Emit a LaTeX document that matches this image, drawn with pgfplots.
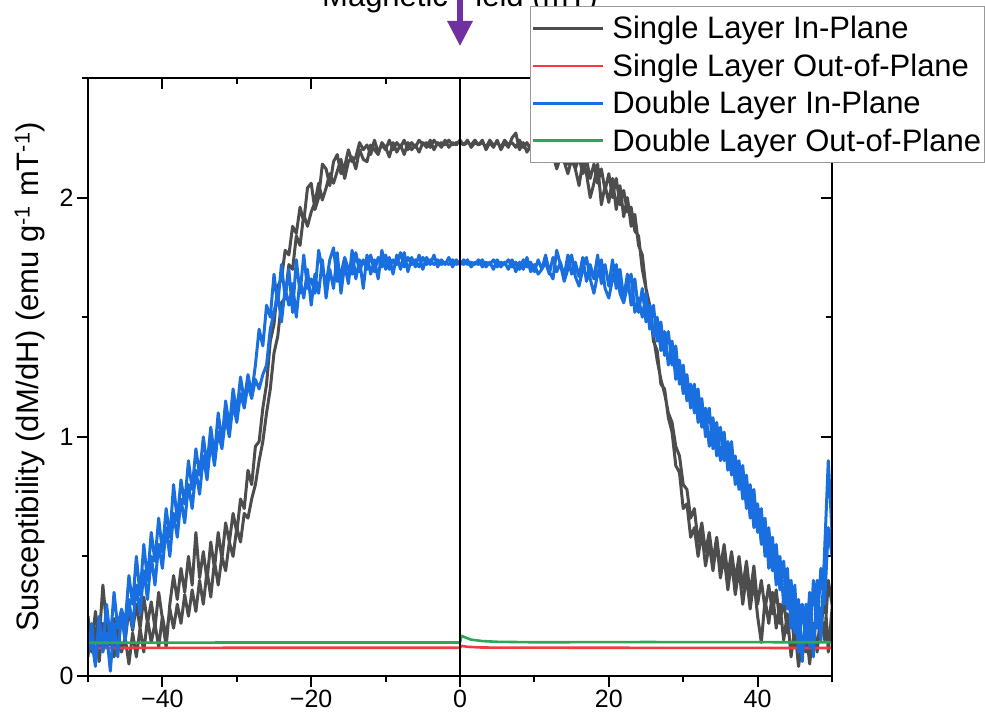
\documentclass[border=0pt]{standalone}
\usepackage{pgfplots}
\pgfplotsset{compat=1.18}
\usepackage{fontspec}
\setmainfont{Liberation Sans}

\definecolor{slgray}{RGB}{77,77,77}
\definecolor{slred}{RGB}{240,60,60}
\definecolor{dlblue}{RGB}{26,111,224}
\definecolor{dlgreen}{RGB}{46,165,90}
\definecolor{arrowpurple}{RGB}{112,48,160}

\begin{document}
\begin{tikzpicture}
\pgfplotsset{
  susc/.style={
    at={(88pt,45pt)}, anchor=south west,
    scale only axis, width=744pt, height=598pt,
    xmin=-50, xmax=50, ymin=0, ymax=2.5,
    axis line style={line width=2pt},
    major tick length=11pt, minor tick length=6pt,
    every tick/.style={black, line width=2pt},
    xtick={-40,-20,0,20,40},
    minor xtick={-50,-30,-10,10,30,50},
    ytick={0,1,2},
    minor ytick={0.5,1.5,2.5},
    tick label style={font=\fontsize{25}{30}\selectfont},
  }
}

% frame: inward ticks on top and right, title and arrow
\begin{axis}[susc,
  xtick pos=right, ytick pos=right, tick align=inside,
  xticklabels={}, yticklabels={}, clip=false]
\node[anchor=base, font=\fontsize{31}{37}\selectfont] at (axis cs:0,2.7975) {Magnetic Field (mT)};
\draw[arrowpurple, line width=5.5pt] (axis cs:0,2.95) -- (axis cs:0,2.70);
\fill[arrowpurple] (axis cs:-1.75,2.739) -- (axis cs:1.75,2.739) -- (axis cs:0,2.635) -- cycle;
\end{axis}

% data
\begin{axis}[susc,
  xtick pos=left, ytick pos=left, tick align=outside,
  axis on top,
  xticklabels={−40,−20,0,20,40}, yticklabels={0,1,2},
  ylabel={Susceptibility (dM/dH) (emu g\textsuperscript{-1} mT\textsuperscript{-1})},
  ylabel style={font=\fontsize{31}{37}\selectfont, at={(axis description cs:-0.078,0.5)}, anchor=center},
  every axis plot/.append style={line join=round},
  legend image code/.code={\draw[#1] (0pt,0pt) -- (70pt,0pt);},
  legend style={at={(0.594,1.1204)}, anchor=north west,
    draw=gray!80, line width=0.8pt, fill=white,
    font=\fontsize{31}{37}\selectfont,
    inner xsep=1pt, inner ysep=8pt,
    nodes={inner sep=2pt}, row sep=9.5pt, column sep=6pt},
  legend cell align=left,
]

\addplot[slgray, line width=3pt] coordinates {
(-50,0.22) (-49.5,0.12) (-49,0.27) (-48.5,0.15) (-48,0.38) (-47.5,0.21) (-47,0.13) (-46.5,0.24) (-46,0.1) (-45.5,0.26)
(-45,0.15) (-44.5,0.28) (-44,0.19) (-43.5,0.3) (-43,0.2) (-42.5,0.33) (-42,0.22) (-41.5,0.31) (-41,0.2) (-40.5,0.35)
(-40,0.24) (-39.5,0.12) (-39,0.3) (-38.5,0.42) (-38,0.32) (-37.5,0.45) (-37,0.35) (-36.5,0.5) (-36,0.38) (-35.5,0.6)
(-35,0.41) (-34.5,0.52) (-34,0.4) (-33.5,0.56) (-33,0.45) (-32.5,0.6) (-32,0.49) (-31.5,0.64) (-31,0.56) (-30.5,0.68)
(-30,0.6) (-29.5,0.74) (-29,0.7) (-28.5,0.86) (-28,0.8) (-27.5,0.96) (-27,0.98) (-26.5,1.12) (-26,1.22) (-25.5,1.4)
(-25,1.47) (-24.5,1.63) (-24,1.66) (-23.5,1.78) (-23,1.76) (-22.5,1.88) (-22,1.85) (-21.5,1.96) (-21,1.9) (-20.5,2.04)
(-20,2.06) (-19.5,1.95) (-19,2.0) (-18.5,2.14) (-18,2.12) (-17.5,2.05) (-17,2.15) (-16.5,2.18) (-16,2.1) (-15.5,2.13)
(-15,2.2) (-14.5,2.15) (-14,2.17) (-13.5,2.23) (-13,2.2) (-12.5,2.22) (-12,2.18) (-11.5,2.24) (-11,2.19) (-10.5,2.22)
(-10,2.2) (-9.5,2.24) (-9,2.2) (-8.5,2.23) (-8,2.21) (-7.5,2.24) (-7,2.2) (-6.5,2.23) (-6,2.21) (-5.5,2.24)
(-5,2.22) (-4.5,2.23) (-4,2.21) (-3.5,2.24) (-3,2.22) (-2.5,2.23) (-2,2.22) (-1.5,2.24) (-1,2.22) (-0.5,2.23)
(0,2.23) (0.5,2.22) (1,2.24) (1.5,2.21) (2,2.23) (2.5,2.22) (3,2.24) (3.5,2.2) (4,2.23) (4.5,2.21)
(5,2.24) (5.5,2.2) (6,2.23) (6.5,2.21) (7,2.25) (7.5,2.27) (8,2.2) (8.5,2.23) (9,2.19) (9.5,2.22)
(10,2.2) (10.5,2.22) (11,2.17) (11.5,2.15) (12,2.2) (12.5,2.18) (13,2.12) (13.5,2.17) (14,2.15) (14.5,2.1)
(15,2.16) (15.5,2.12) (16,2.05) (16.5,2.15) (17,2.1) (17.5,2.0) (18,2.06) (18.5,2.14) (19,1.97) (19.5,2.05)
(20,1.98) (20.5,2.08) (21,1.95) (21.5,2.05) (22,1.92) (22.5,2.0) (23,1.88) (23.5,1.93) (24,1.8) (24.5,1.76)
(25,1.62) (25.5,1.55) (26,1.4) (26.5,1.36) (27,1.22) (27.5,1.2) (28,1.08) (28.5,1.02) (29,0.88) (29.5,0.85)
(30,0.7) (30.5,0.72) (31,0.58) (31.5,0.62) (32,0.5) (32.5,0.6) (33,0.46) (33.5,0.55) (34,0.44) (34.5,0.56)
(35,0.41) (35.5,0.5) (36,0.36) (36.5,0.48) (37,0.34) (37.5,0.45) (38,0.3) (38.5,0.42) (39,0.28) (39.5,0.4)
(40,0.25) (40.5,0.14) (41,0.32) (41.5,0.22) (42,0.35) (42.5,0.2) (43,0.3) (43.5,0.15) (44,0.26) (44.5,0.08)
(45,0.2) (45.5,0.04) (46,0.15) (46.5,0.1) (47,0.28) (47.5,0.12) (48,0.3) (48.5,0.18) (49,0.36) (49.5,0.1) (50,0.28)
(50,0.3) (49.5,0.4) (49,0.15) (48.5,0.27) (48,0.1) (47.5,0.22) (47,0.05) (46.5,0.2) (46,0.09) (45.5,0.24)
(45,0.12) (44.5,0.27) (44,0.18) (43.5,0.32) (43,0.22) (42.5,0.36) (42,0.26) (41.5,0.38) (41,0.28) (40.5,0.4)
(40,0.3) (39.5,0.46) (39,0.34) (38.5,0.48) (38,0.37) (37.5,0.5) (37,0.4) (36.5,0.52) (36,0.42) (35.5,0.55)
(35,0.45) (34.5,0.58) (34,0.48) (33.5,0.6) (33,0.52) (32.5,0.64) (32,0.56) (31.5,0.7) (31,0.66) (30.5,0.78)
(30,0.8) (29.5,0.92) (29,0.96) (28.5,1.06) (28,1.1) (27.5,1.18) (27,1.24) (26.5,1.32) (26,1.42) (25.5,1.5)
(25,1.62) (24.5,1.7) (24,1.84) (23.5,1.86) (23,1.96) (22.5,1.94) (22,2.03) (21.5,1.97) (21,2.08) (20.5,2.0)
(20,2.1) (19.5,2.03) (19,2.12) (18.5,2.06) (18,2.14) (17.5,2.08) (17,2.16) (16.5,2.1) (16,2.17) (15.5,2.12)
(15,2.19) (14.5,2.14) (14,2.2) (13.5,2.16) (13,2.21) (12.5,2.17) (12,2.22) (11.5,2.18) (11,2.22) (10.5,2.19)
(10,2.23) (9.5,2.2) (9,2.23) (8.5,2.21) (8,2.24) (7.5,2.21) (7,2.23) (6.5,2.22) (6,2.24) (5.5,2.21)
(5,2.23) (4.5,2.22) (4,2.24) (3.5,2.21) (3,2.23) (2.5,2.22) (2,2.24) (1.5,2.22) (1,2.23) (0.5,2.22)
(0,2.24) (-0.5,2.22) (-1,2.23) (-1.5,2.21) (-2,2.24) (-2.5,2.21) (-3,2.23) (-3.5,2.2) (-4,2.24) (-4.5,2.21)
(-5,2.23) (-5.5,2.19) (-6,2.22) (-6.5,2.2) (-7,2.23) (-7.5,2.18) (-8,2.22) (-8.5,2.19) (-9,2.23) (-9.5,2.17)
(-10,2.21) (-10.5,2.23) (-11,2.18) (-11.5,2.2) (-12,2.22) (-12.5,2.15) (-13,2.16) (-13.5,2.2) (-14,2.12) (-14.5,2.17)
(-15,2.15) (-15.5,2.08) (-16,2.16) (-16.5,2.11) (-17,2.06) (-17.5,2.1) (-18,2.04) (-18.5,1.99) (-19,2.06) (-19.5,1.98)
(-20,1.94) (-20.5,1.88) (-21,1.93) (-21.5,1.8) (-22,1.84) (-22.5,1.7) (-23,1.72) (-23.5,1.58) (-24,1.56) (-24.5,1.42)
(-25,1.35) (-25.5,1.2) (-26,1.1) (-26.5,0.98) (-27,0.9) (-27.5,0.8) (-28,0.74) (-28.5,0.66) (-29,0.68) (-29.5,0.56)
(-30,0.62) (-30.5,0.5) (-31,0.56) (-31.5,0.44) (-32,0.5) (-32.5,0.38) (-33,0.48) (-33.5,0.33) (-34,0.44) (-34.5,0.3)
(-35,0.4) (-35.5,0.27) (-36,0.36) (-36.5,0.25) (-37,0.34) (-37.5,0.22) (-38,0.3) (-38.5,0.2) (-39,0.28) (-39.5,0.16)
(-40,0.25) (-40.5,0.12) (-41,0.22) (-41.5,0.14) (-42,0.24) (-42.5,0.1) (-43,0.2) (-43.5,0.08) (-44,0.18) (-44.5,0.05)
(-45,0.16) (-45.5,0.1) (-46,0.2) (-46.5,0.08) (-47,0.18) (-47.5,0.12) (-48,0.22) (-48.5,0.06) (-49,0.2) (-49.5,0.1) (-50,0.25)
};
\addlegendentry{Single Layer In-Plane}

\addplot[slred, line width=2.6pt] coordinates {
(-50,0.117) (-30,0.118) (-10,0.118) (0,0.118) (0.2,0.126) (1,0.122) (3,0.119) (20,0.118) (50,0.117)
};
\addlegendentry{Single Layer Out-of-Plane}

\addplot[dlblue, line width=3pt] coordinates {
(-50,0.08) (-49.5,0.22) (-49,0.05) (-48.5,0.2) (-48,0.12) (-47.5,0.3) (-47,0.15) (-46.5,0.35) (-46,0.2) (-45.5,0.28)
(-45,0.22) (-44.5,0.42) (-44,0.3) (-43.5,0.5) (-43,0.34) (-42.5,0.55) (-42,0.4) (-41.5,0.6) (-41,0.48) (-40.5,0.66)
(-40,0.52) (-39.5,0.7) (-39,0.58) (-38.5,0.8) (-38,0.65) (-37.5,0.82) (-37,0.72) (-36.5,0.9) (-36,0.78) (-35.5,0.95)
(-35,0.84) (-34.5,1.0) (-34,0.88) (-33.5,1.04) (-33,0.92) (-32.5,1.1) (-32,0.98) (-31.5,1.15) (-31,1.04) (-30.5,1.2)
(-30,1.1) (-29.5,1.25) (-29,1.15) (-28.5,1.26) (-28,1.18) (-27.5,1.3) (-27,1.45) (-26.5,1.38) (-26,1.55) (-25.5,1.5)
(-25,1.68) (-24.5,1.55) (-24,1.72) (-23.5,1.58) (-23,1.7) (-22.5,1.52) (-22,1.74) (-21.5,1.6) (-21,1.76) (-20.5,1.62)
(-20,1.66) (-19.5,1.6) (-19,1.78) (-18.5,1.7) (-18,1.64) (-17.5,1.74) (-17,1.79) (-16.5,1.65) (-16,1.68) (-15.5,1.75)
(-15,1.7) (-14.5,1.68) (-14,1.77) (-13.5,1.69) (-13,1.74) (-12.5,1.7) (-12,1.76) (-11.5,1.69) (-11,1.75) (-10.5,1.71)
(-10,1.76) (-9.5,1.7) (-9,1.74) (-8.5,1.72) (-8,1.77) (-7.5,1.71) (-7,1.75) (-6.5,1.72) (-6,1.74) (-5.5,1.71)
(-5,1.75) (-4.5,1.72) (-4,1.74) (-3.5,1.72) (-3,1.74) (-2.5,1.72) (-2,1.73) (-1.5,1.72) (-1,1.74) (-0.5,1.72)
(0,1.73) (0.5,1.72) (1,1.74) (1.5,1.71) (2,1.73) (2.5,1.72) (3,1.74) (3.5,1.71) (4,1.73) (4.5,1.7)
(5,1.74) (5.5,1.71) (6,1.73) (6.5,1.7) (7,1.74) (7.5,1.69) (8,1.73) (8.5,1.7) (9,1.75) (9.5,1.69)
(10,1.72) (10.5,1.68) (11,1.7) (11.5,1.76) (12,1.69) (12.5,1.66) (13,1.78) (13.5,1.72) (14,1.65) (14.5,1.7)
(15,1.76) (15.5,1.67) (16,1.63) (16.5,1.7) (17,1.75) (17.5,1.66) (18,1.6) (18.5,1.68) (19,1.74) (19.5,1.62)
(20,1.58) (20.5,1.66) (21,1.72) (21.5,1.6) (22,1.56) (22.5,1.63) (23,1.68) (23.5,1.52) (24,1.58) (24.5,1.5)
(25,1.6) (25.5,1.45) (26,1.55) (26.5,1.4) (27,1.48) (27.5,1.34) (28,1.44) (28.5,1.3) (29,1.38) (29.5,1.22)
(30,1.3) (30.5,1.15) (31,1.22) (31.5,1.1) (32,1.2) (32.5,1.04) (33,1.12) (33.5,0.96) (34,1.08) (34.5,0.92)
(35,1.04) (35.5,0.9) (36,0.98) (36.5,0.84) (37,0.92) (37.5,0.78) (38,0.88) (38.5,0.7) (39,0.8) (39.5,0.62)
(40,0.72) (40.5,0.55) (41,0.66) (41.5,0.45) (42,0.58) (42.5,0.38) (43,0.5) (43.5,0.3) (44,0.45) (44.5,0.2)
(45,0.38) (45.5,0.1) (46,0.3) (46.5,0.14) (47,0.35) (47.5,0.08) (48,0.4) (48.5,0.15) (49,0.52) (49.5,0.9) (50,0.6)
(50,0.5) (49.5,0.62) (49,0.3) (48.5,0.45) (48,0.2) (47.5,0.4) (47,0.12) (46.5,0.3) (46,0.06) (45.5,0.32)
(45,0.18) (44.5,0.4) (44,0.28) (43.5,0.48) (43,0.36) (42.5,0.55) (42,0.44) (41.5,0.62) (41,0.5) (40.5,0.7)
(40,0.6) (39.5,0.78) (39,0.66) (38.5,0.84) (38,0.74) (37.5,0.9) (37,0.8) (36.5,0.98) (36,0.86) (35.5,1.02)
(35,0.9) (34.5,1.06) (34,0.95) (33.5,1.12) (33,1.0) (32.5,1.16) (32,1.06) (31.5,1.22) (31,1.12) (30.5,1.26)
(30,1.18) (29.5,1.32) (29,1.24) (28.5,1.4) (28,1.3) (27.5,1.44) (27,1.36) (26.5,1.5) (26,1.42) (25.5,1.55)
(25,1.48) (24.5,1.62) (24,1.52) (23.5,1.66) (23,1.55) (22.5,1.68) (22,1.58) (21.5,1.7) (21,1.62) (20.5,1.74)
(20,1.63) (19.5,1.72) (19,1.64) (18.5,1.76) (18,1.66) (17.5,1.72) (17,1.65) (16.5,1.75) (16,1.67) (15.5,1.73)
(15,1.68) (14.5,1.76) (14,1.67) (13.5,1.73) (13,1.69) (12.5,1.75) (12,1.68) (11.5,1.73) (11,1.7) (10.5,1.74)
(10,1.69) (9.5,1.73) (9,1.71) (8.5,1.74) (8,1.7) (7.5,1.73) (7,1.71) (6.5,1.74) (6,1.72) (5.5,1.73)
(5,1.71) (4.5,1.74) (4,1.72) (3.5,1.73) (3,1.71) (2.5,1.74) (2,1.72) (1.5,1.73) (1,1.72) (0.5,1.74)
(0,1.72) (-0.5,1.74) (-1,1.71) (-1.5,1.75) (-2,1.72) (-2.5,1.74) (-3,1.71) (-3.5,1.76) (-4,1.72) (-4.5,1.75)
(-5,1.7) (-5.5,1.76) (-6,1.71) (-6.5,1.75) (-7,1.69) (-7.5,1.77) (-8,1.7) (-8.5,1.76) (-9,1.68) (-9.5,1.75)
(-10,1.7) (-10.5,1.78) (-11,1.66) (-11.5,1.74) (-12,1.68) (-12.5,1.76) (-13,1.62) (-13.5,1.74) (-14,1.66) (-14.5,1.78)
(-15,1.64) (-15.5,1.72) (-16,1.6) (-16.5,1.77) (-17,1.62) (-17.5,1.7) (-18,1.58) (-18.5,1.74) (-19,1.6) (-19.5,1.68)
(-20,1.55) (-20.5,1.7) (-21,1.58) (-21.5,1.66) (-22,1.5) (-22.5,1.64) (-23,1.55) (-23.5,1.62) (-24,1.48) (-24.5,1.6)
(-25,1.52) (-25.5,1.45) (-26,1.3) (-26.5,1.26) (-27,1.2) (-27.5,1.24) (-28,1.16) (-28.5,1.22) (-29,1.12) (-29.5,1.18)
(-30,1.06) (-30.5,1.14) (-31,1.0) (-31.5,1.08) (-32,0.95) (-32.5,1.02) (-33,0.88) (-33.5,0.98) (-34,0.82) (-34.5,0.92)
(-35,0.76) (-35.5,0.86) (-36,0.7) (-36.5,0.8) (-37,0.64) (-37.5,0.74) (-38,0.58) (-38.5,0.68) (-39,0.5) (-39.5,0.62)
(-40,0.45) (-40.5,0.55) (-41,0.38) (-41.5,0.5) (-42,0.32) (-42.5,0.44) (-43,0.26) (-43.5,0.38) (-44,0.2) (-44.5,0.32)
(-45,0.15) (-45.5,0.26) (-46,0.08) (-46.5,0.22) (-47,0.02) (-47.5,0.18) (-48,0.1) (-48.5,0.25) (-49,0.04) (-49.5,0.15) (-50,0.1)
};
\addlegendentry{Double Layer In-Plane}

\addplot[dlgreen, line width=2.6pt] coordinates {
(-50,0.139) (-30,0.14) (-10,0.14) (0,0.14) (0.2,0.168) (0.8,0.16) (1.5,0.152) (3,0.146) (5,0.143) (10,0.141) (25,0.142) (50,0.141)
};
\addlegendentry{Double Layer Out-of-Plane}

\draw[black, line width=1.8pt] (axis cs:0,0) -- (axis cs:0,2.5);
\end{axis}

\pgfresetboundingbox
\path[use as bounding box] (0pt,0pt) rectangle (985pt,721pt);
\end{tikzpicture}
\end{document}
